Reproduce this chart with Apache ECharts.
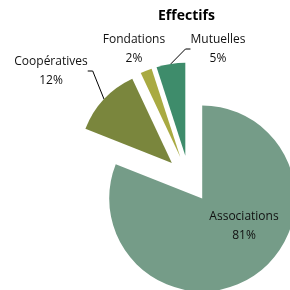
<!DOCTYPE html>
<html>
<head>
<meta charset="utf-8">
<script src="https://cdn.jsdelivr.net/npm/echarts@6/dist/echarts.min.js"></script>
<style>
  html, body { margin: 0; padding: 0; background: #fff; }
  #chart { width: 290px; height: 290px; }
</style>
</head>
<body>
<div id="chart"></div>
<script>
// données
const categories = ['Associations', 'Coopératives', 'Fondations', 'Mutuelles']
const values = [81, 12, 2, 5]
const colors = ['#759c88', '#7a863d', '#a9aa42', '#3e8c6b']

// où poser chaque étiquette (centre du texte)
const labelPos = [[244, 226], [51, 71], [134, 49], [218, 49]]
const showLine = [false, true, false, true]

// centre du camembert et éclatement de chaque part
const pieCenter = [189, 179]
const explode = 23.5

const chart = echarts.init(document.getElementById('chart'))

// labelLayout ne marche pas avec les parts "selected", donc une série par part,
// décalée le long de sa bissectrice
const total = values.reduce(function (a, b) { return a + b }, 0)
let cum = 0
const series = values.map(function (v, i) {
  const mid = (cum + v / 2) / total * 2 * Math.PI
  cum += v
  return {
    type: 'pie',
    center: [pieCenter[0] + explode * Math.sin(mid), pieCenter[1] - explode * Math.cos(mid)],
    radius: 93,
    startAngle: 90,
    clockwise: true,
    percentPrecision: 0,
    avoidLabelOverlap: false,
    emphasis: { disabled: true },
    itemStyle: { borderWidth: 0 },
    label: {
      position: 'outside',
      alignTo: 'none',
      formatter: '{b}\n{d}%',
      fontFamily: 'Open Sans',
      fontSize: 12,
      lineHeight: 19,
      color: '#111',
      align: 'center'
    },
    labelLine: { length: 5, length2: 5, lineStyle: { color: '#000', width: 1 } },
    labelLayout: function (p) {
      const pos = labelPos[p.dataIndex]
      return { x: pos[0], y: pos[1], align: 'center', verticalAlign: 'middle' }
    },
    data: categories.map(function (name, j) {
      return {
        name: name,
        value: values[j],
        itemStyle: { color: j === i ? colors[j] : 'rgba(0,0,0,0)' },
        label: { show: j === i },
        labelLine: { show: j === i && showLine[j] }
      }
    })
  }
})

chart.setOption({
  animation: false,
  title: {
    text: 'Effectifs',
    left: 153,
    top: 4,
    textStyle: { fontFamily: 'Open Sans', fontSize: 14, fontWeight: 'bold', color: '#000' }
  },
  series: series
})
</script>
</body>
</html>
